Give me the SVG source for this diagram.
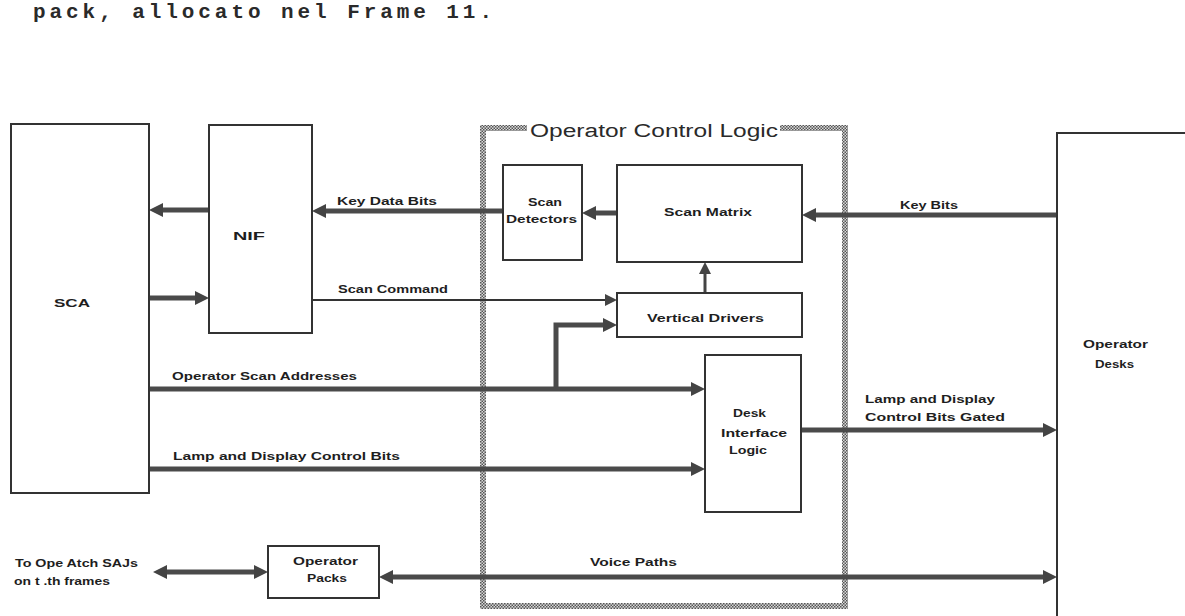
<svg xmlns="http://www.w3.org/2000/svg" width="1185" height="616" viewBox="0 0 1185 616">
<style>
.box{fill:#fff;stroke:#333;stroke-width:2}
.bus{fill:none;stroke:#4a4a4a;stroke-width:5}
.thin{fill:none;stroke:#333;stroke-width:2}
.mid{fill:none;stroke:#444;stroke-width:3}
.lbl{font-family:"Liberation Sans",Arial,sans-serif;font-size:11px;font-weight:700;fill:#1e1e1e}
.title{font-family:"Liberation Sans",Arial,sans-serif;font-size:18px;fill:#2a2a2a}
.type{font-family:"Liberation Mono","Courier New",monospace;font-size:21px;font-weight:700;fill:#2a2a2a}
</style>
<defs>
<pattern id="checker" width="3" height="3" patternUnits="userSpaceOnUse">
<rect width="3" height="3" fill="#d8d8d8"/>
<rect width="1.5" height="1.5" fill="#555"/>
<rect x="1.5" y="1.5" width="1.5" height="1.5" fill="#555"/>
</pattern>
<marker id="ah" viewBox="0 0 14 14" markerWidth="14" markerHeight="14" refX="0" refY="7" orient="auto-start-reverse" markerUnits="userSpaceOnUse">
<path d="M0,0 L14,7 L0,14 z" fill="#444"/>
</marker>
<marker id="ahs" viewBox="0 0 12 12" markerWidth="12" markerHeight="12" refX="0" refY="6" orient="auto-start-reverse" markerUnits="userSpaceOnUse">
<path d="M0,0 L12,6 L0,12 z" fill="#444"/>
</marker>
</defs>

<text class="type" x="33" y="18" textLength="459" lengthAdjust="spacing">pack, allocato nel Frame 11.</text>

<g id="ocl-border">
<path d="M527,128 H483 V606 H845 V128 H780" fill="none" stroke="url(#checker)" stroke-width="6"/>
<text class="title" x="530" y="137" textLength="248" lengthAdjust="spacingAndGlyphs">Operator Control Logic</text>
</g>

<g id="connectors">
<line class="bus" x1="209" y1="210" x2="163" y2="210" marker-end="url(#ah)"/>
<line class="bus" x1="149" y1="298" x2="195" y2="298" marker-end="url(#ah)"/>
<line class="bus" x1="503" y1="211" x2="326" y2="211" marker-end="url(#ah)"/>
<line class="bus" x1="617" y1="213" x2="596" y2="213" marker-end="url(#ah)"/>
<line class="bus" x1="1057" y1="215" x2="816" y2="215" marker-end="url(#ah)"/>
<line class="thin" x1="312" y1="300" x2="605" y2="300" marker-end="url(#ahs)"/>
<line class="mid" x1="705" y1="293" x2="705" y2="274" marker-end="url(#ahs)"/>
<line class="bus" x1="149" y1="389" x2="691" y2="389" marker-end="url(#ah)"/>
<path class="bus" d="M556,389 V325 H603" marker-end="url(#ah)"/>
<line class="bus" x1="149" y1="469" x2="691" y2="469" marker-end="url(#ah)"/>
<line class="bus" x1="801" y1="430" x2="1043" y2="430" marker-end="url(#ah)"/>
<line class="bus" x1="393" y1="577" x2="1043" y2="577" marker-start="url(#ah)" marker-end="url(#ah)"/>
<line class="bus" x1="167" y1="572" x2="254" y2="572" marker-start="url(#ah)" marker-end="url(#ah)"/>
</g>

<g id="sca">
<rect class="box" x="11" y="124" width="138" height="369"/>
<text class="lbl" x="54" y="307" textLength="36" lengthAdjust="spacingAndGlyphs">SCA</text>
</g>

<g id="nif">
<rect class="box" x="209" y="125" width="103" height="208"/>
<text class="lbl" x="233" y="240" textLength="32" lengthAdjust="spacingAndGlyphs">NIF</text>
</g>

<g id="scan-detectors">
<rect class="box" x="503" y="165" width="79" height="95"/>
<text class="lbl" x="528" y="206" textLength="34" lengthAdjust="spacingAndGlyphs">Scan</text>
<text class="lbl" x="506" y="223" textLength="71" lengthAdjust="spacingAndGlyphs">Detectors</text>
</g>

<g id="scan-matrix">
<rect class="box" x="617" y="165" width="185" height="97"/>
<text class="lbl" x="664" y="216" textLength="88" lengthAdjust="spacingAndGlyphs">Scan Matrix</text>
</g>

<g id="vertical-drivers">
<rect class="box" x="617" y="293" width="185" height="44"/>
<text class="lbl" x="647" y="322" textLength="117" lengthAdjust="spacingAndGlyphs">Vertical Drivers</text>
</g>

<g id="desk-interface-logic">
<rect class="box" x="705" y="355" width="96" height="157"/>
<text class="lbl" x="733" y="417" textLength="33" lengthAdjust="spacingAndGlyphs">Desk</text>
<text class="lbl" x="721" y="437" textLength="66" lengthAdjust="spacingAndGlyphs">Interface</text>
<text class="lbl" x="729" y="454" textLength="38" lengthAdjust="spacingAndGlyphs">Logic</text>
</g>

<g id="operator-desks">
<rect class="box" x="1057" y="133" width="200" height="600"/>
<text class="lbl" x="1083" y="348" textLength="65" lengthAdjust="spacingAndGlyphs">Operator</text>
<text class="lbl" x="1095" y="368" textLength="39" lengthAdjust="spacingAndGlyphs">Desks</text>
</g>

<g id="operator-packs">
<rect class="box" x="268" y="546" width="111" height="52"/>
<text class="lbl" x="293" y="565" textLength="65" lengthAdjust="spacingAndGlyphs">Operator</text>
<text class="lbl" x="307" y="582" textLength="40" lengthAdjust="spacingAndGlyphs">Packs</text>
</g>

<g id="labels">
<text class="lbl" x="337" y="205" textLength="100" lengthAdjust="spacingAndGlyphs">Key Data Bits</text>
<text class="lbl" x="338" y="293" textLength="110" lengthAdjust="spacingAndGlyphs">Scan Command</text>
<text class="lbl" x="900" y="209" textLength="58" lengthAdjust="spacingAndGlyphs">Key Bits</text>
<text class="lbl" x="172" y="380" textLength="185" lengthAdjust="spacingAndGlyphs">Operator Scan Addresses</text>
<text class="lbl" x="173" y="460" textLength="227" lengthAdjust="spacingAndGlyphs">Lamp and Display Control Bits</text>
<text class="lbl" x="865" y="403" textLength="130" lengthAdjust="spacingAndGlyphs">Lamp and Display</text>
<text class="lbl" x="865" y="421" textLength="140" lengthAdjust="spacingAndGlyphs">Control Bits Gated</text>
<text class="lbl" x="590" y="566" textLength="87" lengthAdjust="spacingAndGlyphs">Voice Paths</text>
<text class="lbl" x="15" y="567" font-size="10" textLength="123" lengthAdjust="spacingAndGlyphs">To Ope Atch SAJs</text>
<text class="lbl" x="14" y="585" font-size="10" textLength="96" lengthAdjust="spacingAndGlyphs">on t .th frames</text>
</g>
</svg>
